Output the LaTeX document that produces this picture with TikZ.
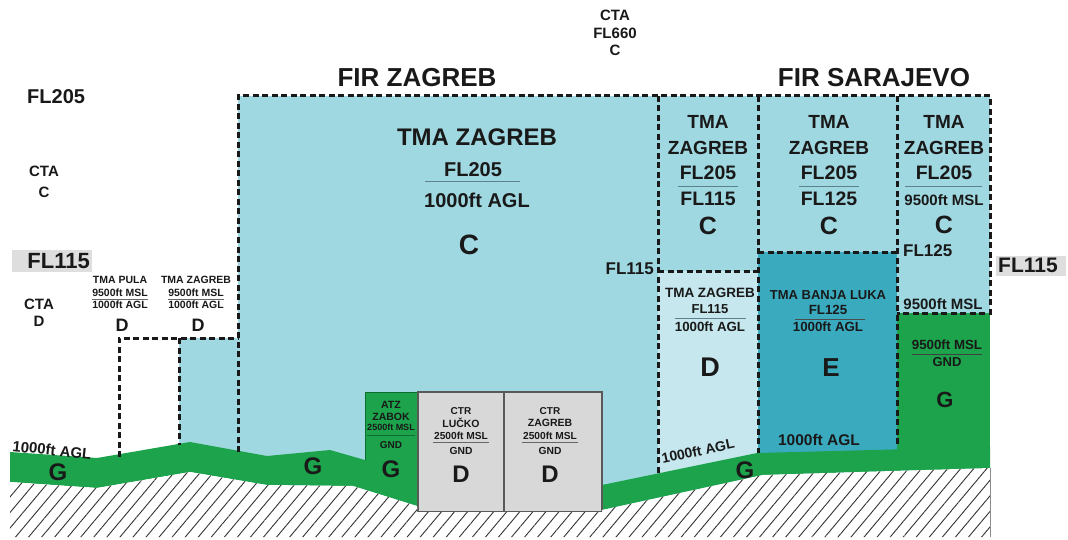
\documentclass[tikz,border=0pt]{standalone}
\usepackage{fontspec}
\setmainfont{Liberation Sans}
\usepackage{tikz}
\usetikzlibrary{patterns.meta}
\definecolor{asBlue}{HTML}{A0D8E1}
\definecolor{asPale}{HTML}{C6E7ED}
\definecolor{asTeal}{HTML}{3AAABF}
\definecolor{asGreen}{HTML}{1CA34B}
\definecolor{asGreenDark}{HTML}{0E6E30}
\definecolor{asGrey}{HTML}{D8D8D8}
\definecolor{asFL}{HTML}{DEDEDE}
\definecolor{asRule}{HTML}{5E828B}
\newcommand{\fsz}[2]{\fontsize{#1}{#2}\selectfont\bfseries}
\tikzset{
  lbl/.style={inner sep=0pt, align=center, text=black!90},
  airdash/.style={draw=black!90, line width=3pt, dash pattern=on 6pt off 3.5pt},
  sepline/.style={draw=asRule, line width=1pt},
  ctrbox/.style={fill=asGrey, draw=black!65, line width=1.2pt},
  hatch/.style={pattern={Lines[angle=50, distance=10pt, line width=0.9pt]}, pattern color=black!80}
}
\begin{document}
\begin{tikzpicture}[x=1pt, y=-1pt]
  \useasboundingbox (0,0) rectangle (1068,540);
  % airspace fills
  \fill[asBlue] (238,96) rectangle (990,512);
  \fill[asBlue] (179,338) rectangle (238,452);
  \fill[asPale] (658,271) rectangle (758,480);
  \fill[asTeal] (758,252) rectangle (897,460);
  \fill[asGreen] (897,313) rectangle (990,470);
  % terrain band and ATZ
  \fill[asGreen] (10,452) -- (97,458) -- (190,442) -- (267,456) -- (330,450) -- (365,460) -- (365,392) -- (417,392) -- (417,506) -- (353,486) -- (267,485) -- (190,472) -- (97,488) -- (10,482) -- cycle;
  \fill[asGreen] (602,485) -- (757,453) -- (990,447) -- (990,468) -- (763,475) -- (602,510) -- cycle;
  \draw[asGreenDark, line width=1pt] (365,460) -- (365,392) -- (417,392) -- (417,505);
  \draw[ctrbox] (418,392) rectangle (504,512);
  \draw[ctrbox] (504,392) rectangle (602,512);
  % ground
  \fill[white] (10,482) -- (97,488) -- (190,472) -- (267,485) -- (353,486) -- (417,506) -- (417,512) -- (602,512) -- (602,510) -- (763,475) -- (990,468) -- (990,537) -- (10,537) -- cycle;
  \fill[hatch] (10,482) -- (97,488) -- (190,472) -- (267,485) -- (353,486) -- (417,506) -- (417,512) -- (602,512) -- (602,510) -- (763,475) -- (990,468) -- (990,537) -- (10,537) -- cycle;
  \draw[black!45, line width=0.8pt] (990,468) -- (990,537);
  % boundaries
  \draw[airdash] (238,452) -- (238,96) -- (990,96) -- (990,313) -- (897,313);
  \draw[airdash] (658,96) -- (658,473) (658,271) -- (758,271);
  \draw[airdash] (758,96) -- (758,453) (758,252) -- (897,252);
  \draw[airdash] (897,96) -- (897,447);
  \draw[airdash] (119,457) -- (119,338) -- (238,338) (179,338) -- (179,445);
  % outside labels
  \node[lbl, font=\fsz{15}{17.5}] (ctatop) at (615,33) {CTA\\FL660\\C};
  \node[lbl, font=\fsz{26}{26}] (firzg) at (417,78) {FIR ZAGREB};
  \node[lbl, font=\fsz{26}{26}] (firsa) at (874,78) {FIR SARAJEVO};
  \node[lbl, anchor=west, font=\fsz{20}{20}] (fl205) at (27,97) {FL205};
  \node[lbl, font=\fsz{15}{21}] (ctac) at (44,182) {CTA\\C};
  \fill[asFL] (12,250) rectangle (92,272);
  \node[lbl, anchor=east, font=\fsz{22}{22}] (fl115w) at (90,261) {FL115};
  \node[lbl, font=\fsz{15}{17}] (ctad) at (39,313) {CTA\\D};
  \fill[asFL] (996,256) rectangle (1066,276);
  \node[lbl, anchor=west, font=\fsz{21}{21}] (fl115e) at (998,265) {FL115};
  \foreach \x/\nm/\id in {120/TMA PULA/pula, 196/TMA ZAGREB/zgs}{
    \node[lbl, font=\fsz{10.5}{12}] (\id-nm) at (\x,280) {\nm};
    \node[lbl, font=\fsz{10.5}{12}] (\id-up) at (\x,293) {9500ft MSL};
    \draw[sepline, draw=black!60] (\x-28,299) -- (\x+28,299);
    \node[lbl, font=\fsz{10.5}{12}] (\id-lo) at (\x,305) {1000ft AGL};
    \node[lbl, font=\fsz{18}{18}] (\id-cl) at (\x+2,325) {D};
  }
  \node[lbl, rotate=-6, font=\fsz{15}{15}] (aglw) at (52,450) {1000ft AGL};
  \node[lbl, font=\fsz{24}{24}] (gw) at (58,472) {G};
  \node[lbl, font=\fsz{24}{24}] (gm) at (313,466) {G};
  \node[lbl, font=\fsz{24}{24}] (ge) at (745,470) {G};
  % ATZ and CTR
  \node[lbl, font=\fsz{10.5}{12}] (atz) at (391,411) {ATZ\\ZABOK};
  \node[lbl, font=\fsz{9}{9}] (atz-up) at (391,427) {2500ft MSL};
  \draw[sepline, draw=asGreenDark] (367,435) -- (415,435);
  \node[lbl, font=\fsz{10}{10}] (atz-lo) at (391,445) {GND};
  \node[lbl, font=\fsz{24}{24}] (atz-cl) at (391,469) {G};
  \foreach \x/\nm/\id in {461/LUČKO/lucko, 550/ZAGREB/zagreb}{
    \node[lbl, font=\fsz{10}{12}] (\id-ctr) at (\x,411) {CTR};
    \node[lbl, font=\fsz{10.5}{12}] (\id-nm) at (\x,423) {\nm};
    \node[lbl, font=\fsz{10.2}{12}] (\id-up) at (\x,436) {2500ft MSL};
    \draw[sepline, draw=black!60] (\x-28,442) -- (\x+28,442);
    \node[lbl, font=\fsz{10.3}{12}] (\id-lo) at (\x,451) {GND};
    \node[lbl, font=\fsz{24}{24}] (\id-cl) at (\x,474) {D};
  }
  % TMA Zagreb
  \node[lbl, font=\fsz{24}{24}] (tmaz) at (477,137) {TMA ZAGREB};
  \node[lbl, font=\fsz{20}{20}] (tmaz-up) at (473,170) {FL205};
  \draw[sepline] (425,182) -- (520,182);
  \node[lbl, font=\fsz{20}{20}] (tmaz-lo) at (477,200) {1000ft AGL};
  \node[lbl, font=\fsz{28}{28}] (tmaz-cl) at (469,245) {C};
  \node[lbl, anchor=east, font=\fsz{17}{17}] (fl115m) at (654,269) {FL115};
  \foreach \x/\lo/\id in {708/FL115/colb, 829/FL125/colc}{
    \node[lbl, font=\fsz{19}{26}] (\id-nm) at (\x,135) {TMA\\ZAGREB};
    \node[lbl, font=\fsz{19.5}{20}] (\id-up) at (\x,173) {FL205};
    \draw[sepline] (\x-30,187) -- (\x+30,187);
    \node[lbl, font=\fsz{19.5}{20}] (\id-lo) at (\x,199) {\lo};
    \node[lbl, font=\fsz{25}{25}] (\id-cl) at (\x,226) {C};
  }
  \node[lbl, font=\fsz{19}{26}] (cold-nm) at (944,135) {TMA\\ZAGREB};
  \node[lbl, font=\fsz{19.5}{20}] (cold-up) at (944,173) {FL205};
  \draw[sepline] (905,187) -- (982,187);
  \node[lbl, font=\fsz{15}{15}] (cold-lo) at (944,200) {9500ft MSL};
  \node[lbl, font=\fsz{25}{25}] (cold-cl) at (944,225) {C};
  \node[lbl, anchor=west, font=\fsz{17}{17}] (cold-fl) at (903,251) {FL125};
  \node[lbl, font=\fsz{15}{15}] (cold-bt) at (943,304) {9500ft MSL};
  % TMA Zagreb D
  \node[lbl, font=\fsz{13.5}{14}] (tmad) at (710,293) {TMA ZAGREB};
  \node[lbl, font=\fsz{13}{14}] (tmad-up) at (710,309) {FL115};
  \draw[sepline] (675,318) -- (746,318);
  \node[lbl, font=\fsz{13.3}{14}] (tmad-lo) at (710,327) {1000ft AGL};
  \node[lbl, font=\fsz{27}{27}] (tmad-cl) at (710,367) {D};
  \node[lbl, rotate=12, font=\fsz{14}{15}] (tmad-agl) at (698,451) {1000ft AGL};
  % TMA Banja Luka
  \node[lbl, font=\fsz{13}{14}] (tmab) at (828,295) {TMA BANJA LUKA};
  \node[lbl, font=\fsz{13.3}{14}] (tmab-up) at (828,310) {FL125};
  \draw[sepline, draw=black!70] (795,319) -- (865,319);
  \node[lbl, font=\fsz{13.3}{14}] (tmab-lo) at (828,327) {1000ft AGL};
  \node[lbl, font=\fsz{26}{26}] (tmab-cl) at (831,368) {E};
  \node[lbl, font=\fsz{15.5}{16}] (tmab-agl) at (819,440) {1000ft AGL};
  % class G east
  \node[lbl, font=\fsz{13.3}{14}] (gsa-up) at (947,345) {9500ft MSL};
  \draw[sepline, draw=black!75] (912,354) -- (982,354);
  \node[lbl, font=\fsz{13}{14}] (gsa-lo) at (947,362) {GND};
  \node[lbl, font=\fsz{22}{22}] (gsa-cl) at (945,400) {G};
\end{tikzpicture}
\end{document}
